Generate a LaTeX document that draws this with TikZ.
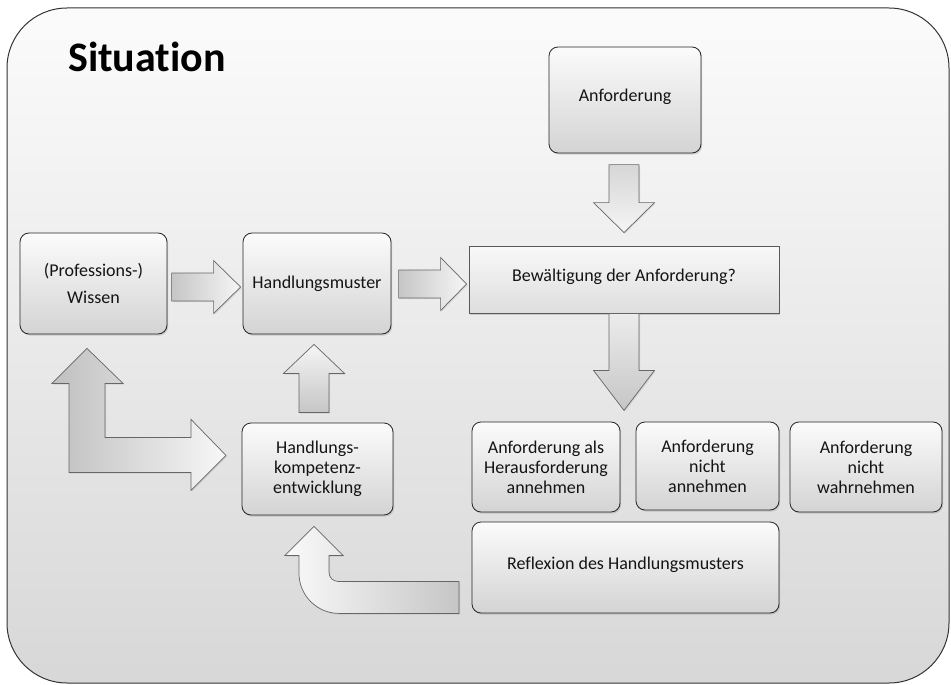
\documentclass[tikz,border=0pt]{standalone}
\usepackage{fontspec}
\setmainfont[Ligatures=NoCommon]{Carlito}
\usetikzlibrary{calc,shadows}
% block arrows: #1 style, #2 tip, #3 total length, #4 shaft half width, #5 head half width, #6 head length
\newcommand\blkR[6]{\path[#1] (#2) -- ++(-#6,-#5) -- ++(0,#5-#4) -- ++(-#3+#6,0) -- ++(0,2*#4) -- ++(#3-#6,0) -- ++(0,#5-#4) -- cycle;}
\newcommand\blkD[6]{\path[#1] (#2) -- ++(-#5,-#6) -- ++(#5-#4,0) -- ++(0,-#3+#6) -- ++(2*#4,0) -- ++(0,#3-#6) -- ++(#5-#4,0) -- cycle;}
\newcommand\blkU[6]{\path[#1] (#2) -- ++(-#5,#6) -- ++(#5-#4,0) -- ++(0,#3-#6) -- ++(2*#4,0) -- ++(0,-#3+#6) -- ++(#5-#4,0) -- cycle;}
\begin{document}
\begin{tikzpicture}[x=1pt,y=-1pt,
  frame/.style={draw=black!80, line width=1pt, rounded corners=60pt, top color=gray!3, bottom color=gray!31},
  box/.style={draw=black!85, line width=0.8pt, rounded corners=9pt, top color=gray!3, bottom color=gray!34,
    align=center, inner sep=0pt, font=\fontsize{18}{20}\selectfont, text=black!92,
    drop shadow={shadow xshift=1.2pt, shadow yshift=-1.6pt, opacity=0.3}},
  flatbox/.style={box, sharp corners, draw=black!65, top color=gray!5, bottom color=gray!26},
  arr/.style={draw=black!60, line width=0.7pt, drop shadow={shadow xshift=1pt, shadow yshift=-1.2pt, opacity=0.2}},
  arrH/.style={arr, left color=gray!45, right color=gray!7},
  arrDlight/.style={arr, top color=gray!32, bottom color=gray!8},
  arrDdark/.style={arr, top color=gray!15, bottom color=gray!45},
  arrUp/.style={arr, top color=gray!8, bottom color=gray!45},
  title/.style={anchor=base west, inner sep=0pt, font=\fontsize{42}{42}\selectfont\bfseries, text=black}
]
\useasboundingbox (0,0) rectangle (951,685);
\path[frame] (7,8) rectangle (949,683);

\node[title] (sit) at (68,71) {Situation};

\node[box, minimum width=147pt, minimum height=101pt] (wissen) at (93.5,283.5) {(Professions-)\\[7pt]Wissen};
\node[box, minimum width=148pt, minimum height=101pt] (hm) at (317,283.5) {Handlungsmuster};
\node[box, minimum width=152pt, minimum height=106pt] (anf) at (625,100) {\raisebox{3pt}[\height][\depth]{Anforderung}};
\node[flatbox, minimum width=310pt, minimum height=67pt] (bew) at (624,279.5) {\raisebox{3pt}[\height][\depth]{Bewältigung der Anforderung?}};
\node[box, minimum width=148pt, minimum height=90pt] (ra) at (546,467) {Anforderung als\\Herausforderung\\annehmen};
\node[box, minimum width=143pt, minimum height=88pt] (rb) at (707.5,466) {Anforderung\\nicht\\annehmen};
\node[box, minimum width=152pt, minimum height=90pt] (rc) at (866,467) {Anforderung\\nicht\\wahrnehmen};
\node[box, minimum width=307pt, minimum height=91pt] (refl) at (625.5,567.5) {\raisebox{3pt}[\height][\depth]{Reflexion des Handlungsmusters}};
\node[box, minimum width=151pt, minimum height=92pt] (hk) at (317.5,469) {Handlungs-\\kompetenz-\\entwicklung};

% tips of the block arrows, taken from the nodes they point at
\coordinate (t1) at ($(hm.west)+(-2,3.5)$);
\coordinate (t2) at ($(bew.west)+(-2,4.5)$);
\coordinate (t3) at ($(bew.north)+(0,-13)$);
\coordinate (t4) at ($(bew.south)+(0,97)$);
\coordinate (t5) at ($(hm.south)+(-3,10)$);
\coordinate (t6) at ($(wissen.south)+(-6.5,14)$);
\coordinate (t7) at ($(hk.south)+(-3.5,11)$);

\blkR{arrH}{t1}{69}{14}{26.5}{27}
\blkR{arrH}{t2}{68}{14}{26.5}{26}
\blkD{arrDlight}{t3}{68}{15}{30.5}{30}
\blkD{arrDdark}{t4}{97}{15}{30.5}{40}
\blkU{arrUp}{t5}{68}{15}{30.5}{29}

% L-shaped double arrow: up to Wissen, right to Handlungskompetenzentwicklung
\path[arr, left color=gray!50, right color=gray!6]
  (t6) -- ++(36,35) -- ++(-18,0) -- ++(0,54) -- ++(86,0) -- ++(0,-18)
  -- ++(35,36) -- ++(-35,35) -- ++(0,-18) -- ++(-122,0) -- ++(0,-89) -- ++(-17,0) -- cycle;

% bent arrow from Reflexion up to Handlungskompetenzentwicklung
\path[arr, left color=gray!4, right color=gray!45]
  (t7) -- ++(29,29) -- ++(-14,0) -- ++(0,17)
  .. controls +(0,5) and +(-5,0) .. ++(9,9)
  -- ++(121,0) -- ++(0,32) -- ++(-120,0)
  .. controls +(-22,0) and +(0,22) .. ++(-40,-40)
  -- ++(0,-18) -- ++(-14,0) -- cycle;
\end{tikzpicture}
\end{document}
